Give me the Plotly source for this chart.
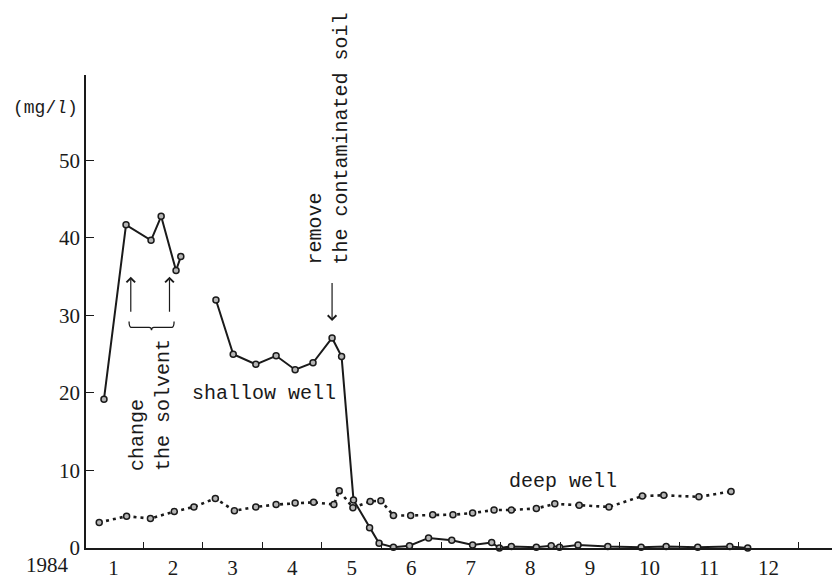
import plotly.graph_objects as go

# Trichloroethylene concentration in well water, 1984 (mg/l)
# x positions are in months from 1 Jan 1984 (1.0 = 1 Feb, ...)
shallow_month = [0.34, 0.71, 1.13, 1.30, 1.55, 1.63, None,
                 2.22, 2.51, 2.89, 3.23, 3.55, 3.85, 4.17, 4.33,
                 4.53, 4.80, 4.96, 5.20, 5.47, 5.79, 6.18, 6.53, 6.85, 6.98,
                 7.18, 7.60, 7.85, 7.99, 8.30, 8.80, 9.36, 9.78, 10.31, 10.85, 11.15]
shallow_conc = [19.2, 41.7, 39.7, 42.8, 35.8, 37.6, None,
                32.0, 25.0, 23.7, 24.8, 23.0, 23.9, 27.1, 24.7,
                6.2, 2.6, 0.6, 0.1, 0.3, 1.3, 1.0, 0.4, 0.7, 0.0,
                0.2, 0.1, 0.3, 0.1, 0.4, 0.2, 0.1, 0.2, 0.1, 0.2, 0.0]

deep_month = [0.26, 0.72, 1.12, 1.52, 1.85, 2.21, 2.53, 2.89, 3.23, 3.55,
              3.86, 4.20, 4.29, 4.52, 4.81, 4.99, 5.20, 5.49, 5.86, 6.20,
              6.53, 6.89, 7.18, 7.60, 7.91, 8.32, 8.82, 9.38, 9.74, 10.33, 10.87]
deep_conc = [3.3, 4.1, 3.8, 4.7, 5.3, 6.4, 4.8, 5.3, 5.6, 5.8,
             5.9, 5.6, 7.4, 5.2, 6.0, 6.1, 4.2, 4.2, 4.3, 4.3,
             4.5, 4.9, 4.9, 5.1, 5.7, 5.5, 5.3, 6.7, 6.8, 6.6, 7.3]

month_labels = [str(m) for m in range(1, 13)]
month_centers = [m - 0.5 for m in range(1, 13)]
month_bounds = list(range(1, 13))
conc_ticks = [0, 10, 20, 30, 40, 50]

INK = "#1a1a1a"
MONO = "Liberation Mono, Courier New, monospace"
SERIF = "Liberation Serif, Times New Roman, serif"

marker = dict(symbol="circle", size=6, color="#b5b5b5", line=dict(color=INK, width=1.5))

fig = go.Figure()
fig.add_trace(go.Scatter(x=deep_month, y=deep_conc, mode="lines+markers",
                         line=dict(color=INK, width=2.6, dash="3px,4px"),
                         marker=marker, cliponaxis=False, name="deep well"))
fig.add_trace(go.Scatter(x=shallow_month, y=shallow_conc, mode="lines+markers",
                         line=dict(color=INK, width=2), marker=marker,
                         connectgaps=False, cliponaxis=False, name="shallow well"))

txt = dict(family=MONO, size=20, color=INK)
annotations = [
    dict(x=1.12, y=18.5, text="change<br>the solvent", textangle=-90, align="left"),
    dict(x=4.11, y=52.9, text="remove<br>the contaminated soil", textangle=-90, align="left"),
    dict(x=3.035, y=19.9, text="shallow well"),
    dict(x=8.04, y=8.6, text="deep well"),
]
for a in annotations:
    fig.add_annotation(**a, xref="x", yref="y", showarrow=False, font=txt,
                       xanchor="center", yanchor="middle")

# Unit label and year label sit outside the plotting area
fig.add_annotation(x=-0.054, y=0.931, xref="paper", yref="paper", text="(mg/<i>l</i>)",
                   showarrow=False, font=dict(family=MONO, size=18, color=INK),
                   xanchor="center", yanchor="middle")
fig.add_annotation(x=-0.051, y=-0.036, xref="paper", yref="paper", text="1984",
                   showarrow=False, font=dict(family=SERIF, size=21, color=INK),
                   xanchor="center", yanchor="middle")

# Arrows marking the solvent change and the soil removal
arrow = dict(showarrow=True, arrowhead=4, arrowsize=1.4, arrowwidth=1.2, arrowcolor=INK,
             text="", xref="x", yref="y", axref="x", ayref="y")
for xm in (0.79, 1.44):
    fig.add_annotation(x=xm, y=35.0, ax=xm, ay=30.3, **arrow)
fig.add_annotation(x=4.17, y=29.3, ax=4.17, ay=34.4, **arrow)

# Curly brace under the two solvent arrows
x0, x1, xm = 0.761, 1.517, 1.138
y0, y1, y2 = 29.23, 28.46, 28.08
d = 0.04
brace = (f"M {x0},{y0} Q {x0},{y1} {x0+d},{y1} L {xm-d},{y1} Q {xm},{y1} {xm},{y2} "
         f"Q {xm},{y1} {xm+d},{y1} L {x1-d},{y1} Q {x1},{y1} {x1},{y0}")
fig.add_shape(type="path", path=brace, xref="x", yref="y",
              line=dict(color=INK, width=1.3))

fig.update_layout(
    width=832, height=580,
    margin=dict(l=86, r=0, t=75, b=29),
    paper_bgcolor="white", plot_bgcolor="white",
    showlegend=False,
    xaxis=dict(range=[0.038, 12.565], tickvals=month_centers, ticktext=month_labels,
               ticks="", showgrid=False, zeroline=False,
               showline=True, linecolor=INK, linewidth=1.6,
               tickfont=dict(family=SERIF, size=21, color=INK),
               minor=dict(tickvals=month_bounds, ticks="inside", ticklen=6,
                          tickwidth=1.4, tickcolor=INK, showgrid=False)),
    yaxis=dict(range=[0, 61.03], tickvals=conc_ticks, ticks="inside", ticklen=8,
               tickwidth=1.4, tickcolor=INK, showgrid=False, zeroline=False,
               showline=True, linecolor=INK, linewidth=1.6,
               tickfont=dict(family=SERIF, size=21, color=INK)),
)

fig.write_html("out.html")
